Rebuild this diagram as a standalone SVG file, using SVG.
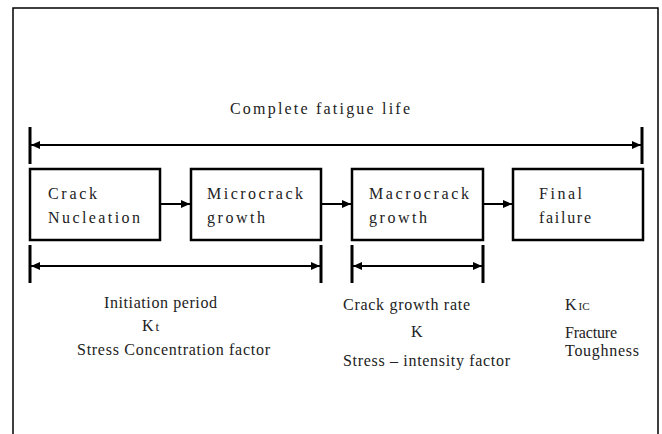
<svg xmlns="http://www.w3.org/2000/svg" width="662" height="434" viewBox="0 0 662 434">
<style>
text{font-family:"Liberation Serif","Times New Roman",serif;font-size:16px;fill:#222;}
.box{fill:#fff;stroke:#000;stroke-width:2.5;}
.ln{stroke:#000;stroke-width:2;fill:none;}
.tick{stroke:#000;stroke-width:3;}
.frame{stroke:#000;stroke-width:1.5;fill:none;}
</style>
<defs>
<marker id="ah" markerWidth="9" markerHeight="8" refX="9" refY="4" orient="auto-start-reverse" markerUnits="userSpaceOnUse">
<path d="M0,0 L9,4 L0,8 z" fill="#000"/>
</marker>
</defs>
<rect width="662" height="434" fill="#fff"/>
<path class="frame" d="M13,434 L13,8 L658,8 L658,434"/>
<g id="title">
<text x="230" y="114" textLength="180" lengthAdjust="spacing">Complete fatigue life</text>
</g>
<g id="connectors">
<line class="tick" x1="30" y1="127" x2="30" y2="164"/>
<line class="tick" x1="642" y1="127" x2="642" y2="164"/>
<line class="ln" x1="31" y1="145" x2="641" y2="145" marker-start="url(#ah)" marker-end="url(#ah)"/>
<line class="ln" x1="160" y1="204" x2="190" y2="204" marker-end="url(#ah)"/>
<line class="ln" x1="321" y1="204" x2="351" y2="204" marker-end="url(#ah)"/>
<line class="ln" x1="483" y1="204" x2="512" y2="204" marker-end="url(#ah)"/>
<line class="tick" x1="30" y1="245" x2="30" y2="283"/>
<line class="tick" x1="321" y1="245" x2="321" y2="283"/>
<line class="ln" x1="31" y1="266" x2="320" y2="266" marker-start="url(#ah)" marker-end="url(#ah)"/>
<line class="tick" x1="352" y1="245" x2="352" y2="283"/>
<line class="tick" x1="483" y1="245" x2="483" y2="283"/>
<line class="ln" x1="353" y1="266" x2="482" y2="266" marker-start="url(#ah)" marker-end="url(#ah)"/>
</g>
<g id="crack-nucleation">
<rect class="box" x="30" y="169" width="130" height="71"/>
<text x="48" y="199" textLength="49" lengthAdjust="spacing">Crack</text>
<text x="48" y="223" textLength="92" lengthAdjust="spacing">Nucleation</text>
</g>
<g id="microcrack-growth">
<rect class="box" x="191" y="169" width="130" height="71"/>
<text x="207" y="199" textLength="96" lengthAdjust="spacing">Microcrack</text>
<text x="207" y="223" textLength="58" lengthAdjust="spacing">growth</text>
</g>
<g id="macrocrack-growth">
<rect class="box" x="352" y="169" width="131" height="71"/>
<text x="369" y="199" textLength="100" lengthAdjust="spacing">Macrocrack</text>
<text x="369" y="223" textLength="58" lengthAdjust="spacing">growth</text>
</g>
<g id="final-failure">
<rect class="box" x="513" y="169" width="130" height="71"/>
<text x="539" y="199" textLength="43" lengthAdjust="spacing">Final</text>
<text x="539" y="223" textLength="52" lengthAdjust="spacing">failure</text>
</g>
<g id="initiation-labels">
<text x="104" y="308" textLength="113" lengthAdjust="spacing">Initiation period</text>
<text x="142" y="331">K<tspan dx="2" font-size="13">t</tspan></text>
<text x="77" y="355" textLength="193" lengthAdjust="spacing">Stress Concentration factor</text>
</g>
<g id="growth-labels">
<text x="343" y="310" textLength="127" lengthAdjust="spacing">Crack growth rate</text>
<text x="411" y="337">K</text>
<text x="343" y="366" textLength="167" lengthAdjust="spacing">Stress – intensity factor</text>
</g>
<g id="failure-labels">
<text x="565" y="310">K<tspan dx="2" font-size="11">IC</tspan></text>
<text x="565" y="338" textLength="52" lengthAdjust="spacing">Fracture</text>
<text x="565" y="356" textLength="74" lengthAdjust="spacing">Toughness</text>
</g>
</svg>
